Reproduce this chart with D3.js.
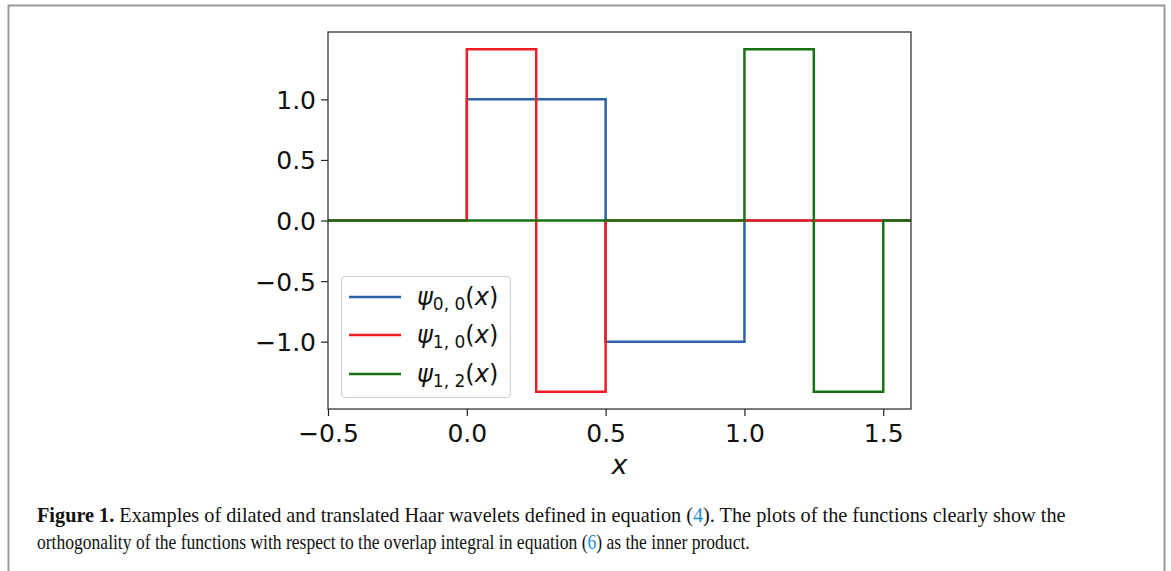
<!DOCTYPE html>
<html>
<head>
<meta charset="utf-8">
<script src="https://cdn.jsdelivr.net/npm/d3@7"></script>
<style>
  html, body { margin: 0; padding: 0; background: #fff; }
  svg { display: block; }
</style>
</head>
<body>
<svg id="fig" width="1171" height="571"></svg>
<script>
// Haar wavelet samples: breakpoints (x) and the constant value held from each breakpoint on
const psi00X = [-0.5, 0, 0.5, 1, 1.6];
const psi00Y = [0, 1, -1, 0, 0];
const psi10X = [-0.5, 0, 0.25, 0.5, 1.6];
const psi10Y = [0, 1.414, -1.414, 0, 0];
const psi12X = [-0.5, 1, 1.25, 1.5, 1.6];
const psi12Y = [0, 1.414, -1.414, 0, 0];

const seriesSubs = ["0, 0", "1, 0", "1, 2"];
const seriesColors = ["#2a62a8", "#f21d24", "#177012"];

const xTicks = [-0.5, 0.0, 0.5, 1.0, 1.5];
const yTicks = [-1.0, -0.5, 0.0, 0.5, 1.0];
const xDomain = [-0.5, 1.6];
const yDomain = [-1.556, 1.556];

const svg = d3.select("#fig");

// outer frame of the figure
svg.append("rect")
  .attr("x", 8.5).attr("y", 5.5)
  .attr("width", 1156).attr("height", 580)
  .attr("fill", "none").attr("stroke", "#9a9a9a").attr("stroke-width", 2);

const plot = { left: 328, right: 911, top: 32, bottom: 409 };

const x = d3.scaleLinear().domain(xDomain).range([plot.left, plot.right]);
const y = d3.scaleLinear().domain(yDomain).range([plot.bottom, plot.top]);

const fmt = d => (d < 0 ? "\u2212" : "") + Math.abs(d).toFixed(1);

const xAxis = svg.append("g")
  .attr("transform", `translate(0,${plot.bottom})`)
  .call(d3.axisBottom(x).tickValues(xTicks).tickFormat(fmt).tickSizeOuter(0).tickSize(7).tickPadding(8));
const yAxis = svg.append("g")
  .attr("transform", `translate(${plot.left},0)`)
  .call(d3.axisLeft(y).tickValues(yTicks).tickFormat(fmt).tickSizeOuter(0).tickSize(7).tickPadding(5));

[xAxis, yAxis].forEach(g => {
  g.select(".domain").remove();
  g.selectAll(".tick line").attr("stroke", "#222").attr("stroke-width", 1.2);
  g.selectAll(".tick text")
    .attr("fill", "#111")
    .style("font-family", "'DejaVu Sans', sans-serif")
    .style("font-size", "25px");
});
yAxis.selectAll(".tick text").attr("dy", "0.36em");

// step lines
const line = d3.line()
  .x(d => x(d[0]))
  .y(d => y(d[1]))
  .curve(d3.curveStepAfter);

const series = [
  psi00X.map((v, i) => [v, psi00Y[i]]),
  psi10X.map((v, i) => [v, psi10Y[i]]),
  psi12X.map((v, i) => [v, psi12Y[i]])
];

svg.append("clipPath").attr("id", "plotClip")
  .append("rect")
  .attr("x", plot.left).attr("y", plot.top)
  .attr("width", plot.right - plot.left).attr("height", plot.bottom - plot.top);

svg.append("g").attr("clip-path", "url(#plotClip)")
  .selectAll("path")
  .data(series)
  .join("path")
  .attr("d", line)
  .attr("fill", "none")
  .attr("stroke", (d, i) => seriesColors[i])
  .attr("stroke-width", 2.5)
  .attr("stroke-linejoin", "miter");

// axes frame
svg.append("rect")
  .attr("x", plot.left).attr("y", plot.top)
  .attr("width", plot.right - plot.left).attr("height", plot.bottom - plot.top)
  .attr("fill", "none").attr("stroke", "#333").attr("stroke-width", 1.3);

// x label
svg.append("text")
  .attr("x", (plot.left + plot.right) / 2).attr("y", 474)
  .attr("text-anchor", "middle")
  .style("font-family", "'DejaVu Sans', sans-serif")
  .style("font-style", "italic")
  .style("font-size", "27px")
  .attr("fill", "#111")
  .text("x");

// legend
const legend = svg.append("g");
legend.append("rect")
  .attr("x", 341.5).attr("y", 276.5)
  .attr("width", 169).attr("height", 121)
  .attr("rx", 4)
  .attr("fill", "#fff").attr("fill-opacity", 0.8)
  .attr("stroke", "#d0d0d0").attr("stroke-width", 1.2);

const rowY = [297, 335, 374];
seriesSubs.forEach((sub, i) => {
  legend.append("line")
    .attr("x1", 349).attr("x2", 401)
    .attr("y1", rowY[i]).attr("y2", rowY[i])
    .attr("stroke", seriesColors[i]).attr("stroke-width", 2.5);
  const t = legend.append("text")
    .attr("x", 417).attr("y", rowY[i] + 8)
    .style("font-family", "'DejaVu Sans', sans-serif")
    .style("font-size", "24px")
    .attr("fill", "#111");
  t.append("tspan").style("font-style", "italic").text("ψ");
  t.append("tspan").attr("dy", 5).style("font-size", "17px").text(sub);
  t.append("tspan").attr("dy", -5).text("(");
  t.append("tspan").style("font-style", "italic").text("x");
  t.append("tspan").text(")");
});

// caption, each line scaled horizontally to its measured column width
const cap = svg.append("g")
  .style("font-family", "'Liberation Serif', 'Times New Roman', serif")
  .style("font-size", "21px")
  .attr("fill", "#111");

function captionLine(parts, x0, y0, width) {
  const t = cap.append("text").attr("x", 0).attr("y", 0);
  parts.forEach(p => {
    const s = t.append("tspan").text(p.text);
    if (p.bold) s.style("font-weight", "bold");
    if (p.ref) s.attr("fill", "#1a8fd0");
  });
  const natural = t.node().getComputedTextLength();
  t.attr("transform", `translate(${x0},${y0}) scale(${width / natural},1)`);
}

captionLine([
  { text: "Figure 1.", bold: true },
  { text: " Examples of dilated and translated Haar wavelets defined in equation (" },
  { text: "4", ref: true },
  { text: "). The plots of the functions clearly show the" }
], 37, 522, 1029);

captionLine([
  { text: "orthogonality of the functions with respect to the overlap integral in equation (" },
  { text: "6", ref: true },
  { text: ") as the inner product." }
], 37, 549, 713);
</script>
</body>
</html>
